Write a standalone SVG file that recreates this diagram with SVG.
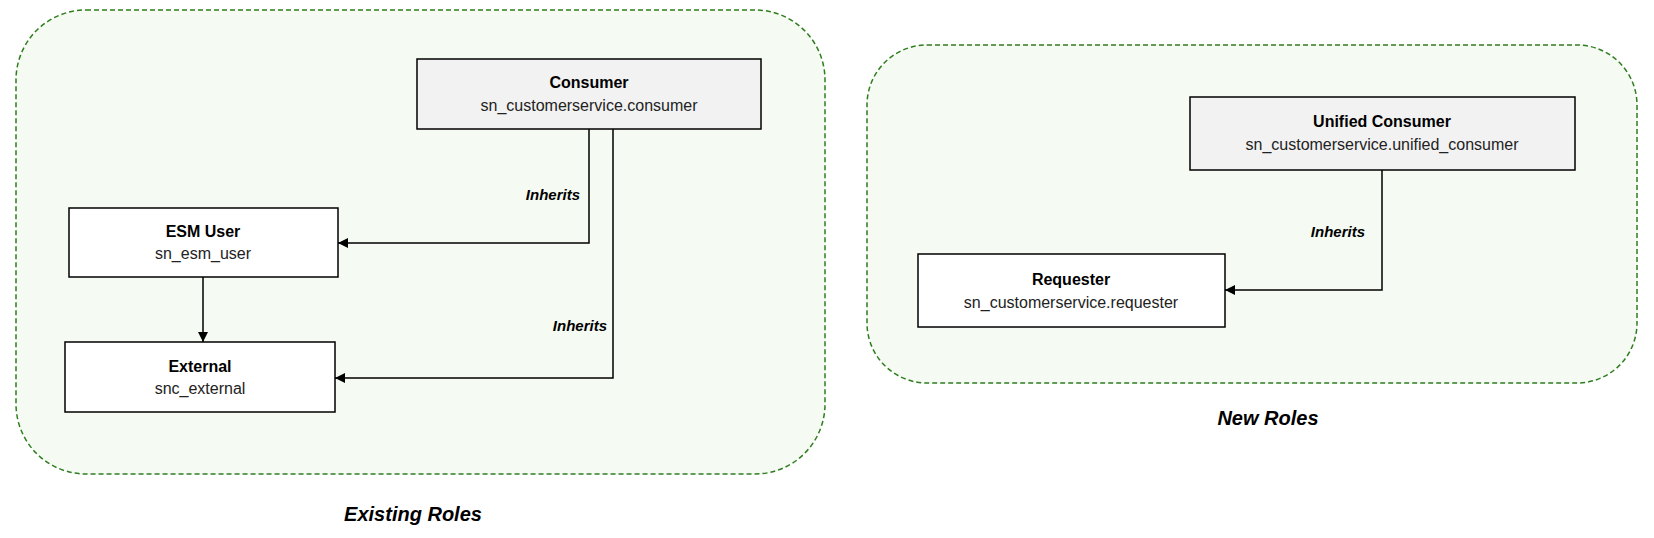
<svg xmlns="http://www.w3.org/2000/svg" width="1654" height="538" viewBox="0 0 1654 538">
<style>
.grp{fill:#f5fbf2;stroke:#2f7d1f;stroke-width:1.5;stroke-dasharray:5 3}
.box{stroke:#000;stroke-width:1.5}
.t{font-family:"Liberation Sans",Arial,sans-serif;font-size:16px;text-anchor:middle;fill:#000}
.b{font-weight:bold}
.c{fill:#222}
.lbl{font-family:"Liberation Sans",Arial,sans-serif;font-size:15px;font-weight:bold;font-style:italic;text-anchor:end}
.cap{font-family:"Liberation Sans",Arial,sans-serif;font-size:20px;font-weight:bold;font-style:italic;text-anchor:middle}
.ln{fill:none;stroke:#000;stroke-width:1.5}
</style>
<defs><marker id="ar" viewBox="0 0 10 10" refX="10" refY="5" markerWidth="10" markerHeight="10" markerUnits="userSpaceOnUse" orient="auto"><path d="M0,0L10,5L0,10z"/></marker></defs>
<g id="existing"><rect class="grp" x="16" y="10" width="809" height="464" rx="70"/><text class="cap" x="413" y="521">Existing Roles</text></g>
<g id="new"><rect class="grp" x="867" y="45" width="770" height="338" rx="60"/><text class="cap" x="1268" y="425">New Roles</text></g>
<g id="consumer"><rect class="box" fill="#f2f2f2" x="417" y="59" width="344" height="70"/><text class="t b" x="589" y="88">Consumer</text><text class="t c" x="589" y="111">sn_customerservice.consumer</text></g>
<g id="esm"><rect class="box" fill="#fff" x="69" y="208" width="269" height="69"/><text class="t b" x="203" y="237">ESM User</text><text class="t c" x="203" y="259">sn_esm_user</text></g>
<g id="external"><rect class="box" fill="#fff" x="65" y="342" width="270" height="70"/><text class="t b" x="200" y="372">External</text><text class="t c" x="200" y="394">snc_external</text></g>
<g id="unified"><rect class="box" fill="#f2f2f2" x="1190" y="97" width="385" height="73"/><text class="t b" x="1382" y="127">Unified Consumer</text><text class="t c" x="1382" y="150">sn_customerservice.unified_consumer</text></g>
<g id="requester"><rect class="box" fill="#fff" x="918" y="254" width="307" height="73"/><text class="t b" x="1071" y="285">Requester</text><text class="t c" x="1071" y="308">sn_customerservice.requester</text></g>
<g id="connectors">
<path class="ln" d="M589,129V243H338" marker-end="url(#ar)"/>
<path class="ln" d="M613,129V378H335" marker-end="url(#ar)"/>
<path class="ln" d="M203,277V342" marker-end="url(#ar)"/>
<path class="ln" d="M1382,170V290H1225" marker-end="url(#ar)"/>
<text class="lbl" x="580" y="200">Inherits</text>
<text class="lbl" x="607" y="331">Inherits</text>
<text class="lbl" x="1365" y="237">Inherits</text>
</g>
</svg>
